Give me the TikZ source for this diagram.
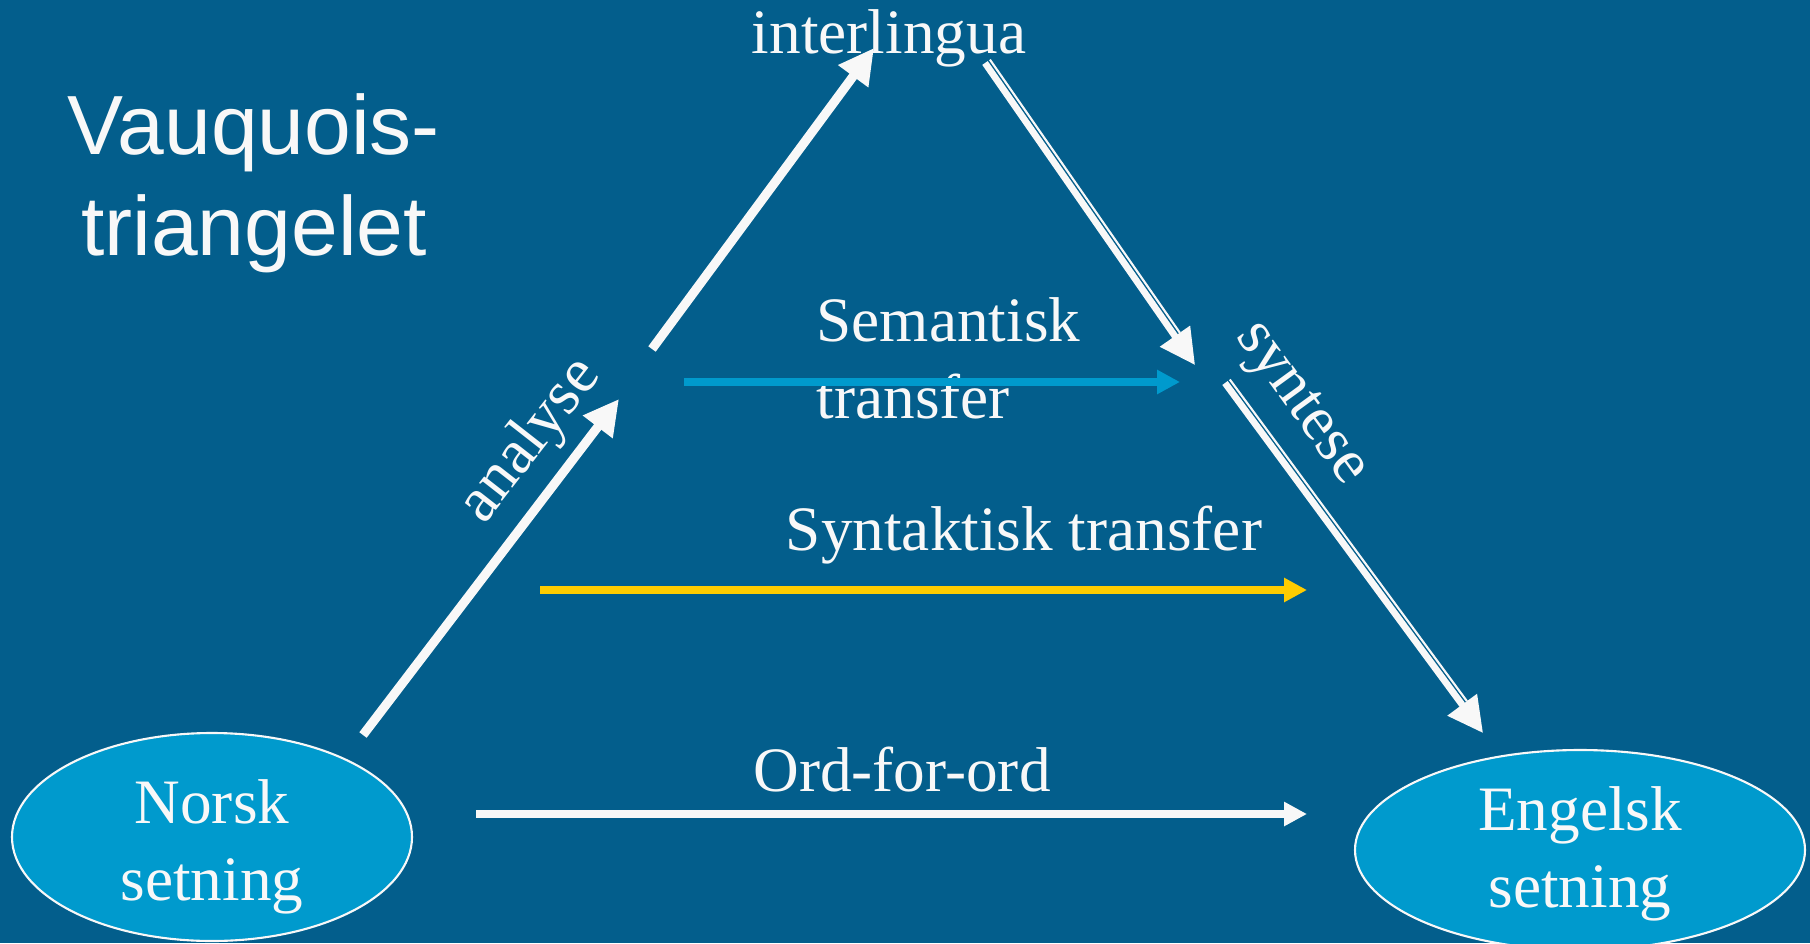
\documentclass[tikz,border=0pt]{standalone}
\usepackage{fontspec}
\setmainfont{Liberation Serif}
\newfontfamily\headfont{Liberation Sans}
\usepackage{xcolor}
\usepackage{tikz}
\usetikzlibrary{calc,arrows.meta,shapes.geometric}
\definecolor{slide}{HTML}{035E8C}
\definecolor{text}{HTML}{F8F8F8}
\definecolor{sea}{HTML}{009ACD}
\definecolor{gold}{HTML}{FFCC00}
\tikzset{
  sent/.style={ellipse, draw=text, line width=0.6pt, fill=sea, inner sep=0pt},
  lab/.style={text=text, font=\fontsize{18}{21.8}\selectfont, inner sep=0pt},
  head/.style={text=text, font=\headfont\fontsize{23.9}{28.5}\selectfont, align=center, inner sep=0pt},
  ana/.style={draw=text, line width=2.6pt, -{Triangle[length=10pt,width=10pt]}},
  syn/.style={draw=text, line width=1.9pt, -{Triangle[length=10pt,width=10pt]}},
  rail/.style={draw=text, line width=0.6pt, shorten >=10pt},
  flat/.style={line width=2.1pt, -{Triangle[length=6.5pt,width=6.5pt]}},
}
\begin{document}
\begin{tikzpicture}
  \useasboundingbox[fill=slide] (0,0) rectangle (18.10,9.43);

  % sentences
  \node[sent, minimum width=4.0cm, minimum height=2.08cm] (no) at (2.12,1.06) {};
  \node[sent, minimum width=4.5cm, minimum height=2.0cm] (en) at (15.80,0.93) {};
  \node[lab, align=center, anchor=base] (nol) at (2.12,0.43) {Norsk\\setning};
  \node[lab, align=center, anchor=base] (enl) at (15.80,0.36) {Engelsk\\setning};

  % labels
  \node[head, anchor=base] (title) at (2.54,6.88) {Vauquois-\\triangelet};
  \node[lab, anchor=base] (il) at (8.89,8.90) {interlingua};
  \node[lab, align=left, anchor=base west] (sem) at (8.16,5.25) {Semantisk\\transfer};
  \node[lab, anchor=base] (syt) at (10.24,3.93) {Syntaktisk transfer};
  \node[lab, anchor=base] (ord) at (9.02,1.52) {Ord-for-ord};
  \node[lab, rotate=52] (an) at (5.31,5.02) {analyse};
  \node[lab, rotate=-54] (sy) at (12.99,5.38) {syntese};

  % triangle sides
  \coordinate (a1) at (3.63,2.08);
  \coordinate (a2) at (6.19,5.44);
  \coordinate (a3) at (6.52,5.94);
  \coordinate (a4) at (8.74,8.95);
  \coordinate (s1) at (9.85,8.80);
  \coordinate (s2) at (11.95,5.78);
  \coordinate (s3) at (12.25,5.60);
  \coordinate (s4) at (14.83,2.10);

  \draw[ana] (a1)--(a2);
  \draw[ana] (a3)--(a4);
  \draw[syn] (s1)--(s2);
  \draw[rail] ($(s1)+(0.049,0.034)$)--($(s2)+(0.049,0.034)$);
  \draw[syn] (s3)--(s4);
  \draw[rail] ($(s3)+(0.048,0.035)$)--($(s4)+(0.048,0.035)$);

  % transfer levels
  \coordinate (b1) at (6.84,5.61);
  \coordinate (b2) at (11.80,5.61);
  \coordinate (y1) at (5.40,3.53);
  \coordinate (y2) at (13.07,3.53);
  \coordinate (w1) at (4.76,1.29);
  \coordinate (w2) at (13.07,1.29);

  \draw[flat, draw=sea, fill=sea] (b1)--(b2);
  \draw[flat, draw=gold, fill=gold] (y1)--(y2);
  \draw[flat, draw=text, fill=text] (w1)--(w2);
\end{tikzpicture}
\end{document}
